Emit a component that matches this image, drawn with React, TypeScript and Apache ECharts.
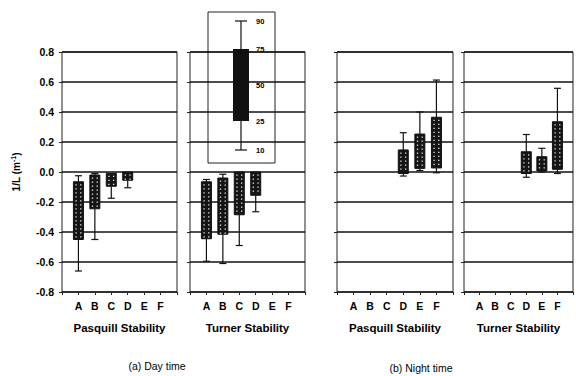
import React, { useEffect, useRef } from "react";
import * as echarts from "echarts";

// Categories (stability classes)
const categories = ["A", "B", "C", "D", "E", "F"];
// Tick labels for 1/L axis
const yTicks = [-0.8, -0.6, -0.4, -0.2, 0.0, 0.2, 0.4, 0.6, 0.8];
// Box data per class: [10th, 25th, 75th, 90th percentile] of 1/L, null = no data
const dayPasquill: (number[] | null)[] = [
  [-0.66, -0.45, -0.065, -0.025],
  [-0.45, -0.245, -0.02, -0.01],
  [-0.175, -0.095, -0.008, -0.008],
  [-0.105, -0.055, 0.0, 0.0],
  null,
  null,
];
const dayTurner: (number[] | null)[] = [
  [-0.595, -0.445, -0.065, -0.05],
  [-0.61, -0.415, -0.04, -0.015],
  [-0.49, -0.285, 0.0, 0.0],
  [-0.265, -0.155, 0.0, 0.0],
  null,
  null,
];
const nightPasquill: (number[] | null)[] = [
  null,
  null,
  null,
  [-0.027, -0.01, 0.147, 0.262],
  [0.01, 0.024, 0.253, 0.4],
  [-0.005, 0.027, 0.365, 0.613],
];
const nightTurner: (number[] | null)[] = [
  null,
  null,
  null,
  [-0.035, -0.01, 0.135, 0.25],
  [0.0, 0.007, 0.102, 0.158],
  [-0.01, 0.018, 0.335, 0.558],
];
const panelNames = ["Pasquill Stability", "Turner Stability", "Pasquill Stability", "Turner Stability"];
const panelData = [dayPasquill, dayTurner, nightPasquill, nightTurner];
const legendPercentiles = ["90", "75", "50", "25", "10"];
const captions = ["(a) Day time", "(b) Night time"];

const FONT = "'Liberation Sans', Arial, sans-serif";

function renderBox(params: any, api: any) {
  const x = api.value(0);
  const lo = api.value(1);
  const q1 = api.value(2);
  const q3 = api.value(3);
  const hi = api.value(4);
  const [cx, yLo] = api.coord([x, lo]);
  const yQ1 = api.coord([x, q1])[1];
  const yQ3 = api.coord([x, q3])[1];
  const yHi = api.coord([x, hi])[1];
  const bw = 10;
  const cw = 7;
  const ls = { stroke: "#111", lineWidth: 1.2 };
  const children: any[] = [];
  if (yLo - yQ1 > 1) {
    children.push({ type: "line", shape: { x1: cx, y1: yQ1, x2: cx, y2: yLo }, style: ls });
    children.push({ type: "line", shape: { x1: cx - cw / 2, y1: yLo, x2: cx + cw / 2, y2: yLo }, style: ls });
  }
  if (yQ3 - yHi > 1) {
    children.push({ type: "line", shape: { x1: cx, y1: yQ3, x2: cx, y2: yHi }, style: ls });
    children.push({ type: "line", shape: { x1: cx - cw / 2, y1: yHi, x2: cx + cw / 2, y2: yHi }, style: ls });
  }
  children.push({
    type: "rect",
    shape: { x: cx - bw / 2, y: yQ3, width: bw, height: yQ1 - yQ3 },
    style: { fill: "#151515", stroke: "#111", lineWidth: 1 },
  });
  for (let yy = yQ3 + 2.5; yy < yQ1 - 1.5; yy += 4) {
    children.push({ type: "rect", shape: { x: cx - 3, y: yy, width: 1.3, height: 1.3 }, style: { fill: "#e8e8e8" } });
    children.push({ type: "rect", shape: { x: cx + 1.7, y: yy, width: 1.3, height: 1.3 }, style: { fill: "#e8e8e8" } });
  }
  return { type: "group", children };
}

export default function App() {
  const ref = useRef<HTMLDivElement>(null);
  useEffect(() => {
    if (!ref.current) return;
    const chart = echarts.init(ref.current, undefined, { renderer: "svg" });
    const lefts = [62, 190, 337, 464];
    const widths = [115, 115, 116, 115];
    const grids = lefts.map((l, i) => ({
      left: l,
      top: 52,
      width: widths[i],
      height: 240,
      show: true,
      borderColor: "#222",
      borderWidth: 1,
      backgroundColor: "transparent",
    }));
    const xAxes = lefts.map((_, i) => ({
      type: "value",
      gridIndex: i,
      min: 0,
      max: 7,
      interval: 1,
      name: panelNames[i],
      nameLocation: "middle",
      nameGap: 30,
      nameTextStyle: { fontFamily: FONT, fontWeight: "bold", fontSize: 11.5, color: "#000" },
      axisLine: { show: false, onZero: false },
      axisTick: { show: true, length: 3, lineStyle: { color: "#222" } },
      splitLine: { show: false },
      axisLabel: {
        margin: 8,
        fontFamily: FONT,
        fontWeight: "bold",
        fontSize: 10.5,
        color: "#000",
        formatter: (v: number) => (v >= 1 && v <= categories.length ? categories[v - 1] : ""),
      },
    }));
    const yAxes = lefts.map((_, i) => ({
      type: "value",
      gridIndex: i,
      min: yTicks[0],
      max: yTicks[yTicks.length - 1],
      interval: 0.2,
      name: i === 0 ? "1/L (m{sup|-1})" : "",
      nameLocation: "middle",
      nameGap: 39,
      nameRotate: 90,
      nameTextStyle: {
        fontFamily: FONT,
        fontWeight: "bold",
        fontSize: 10,
        color: "#000",
        rich: { sup: { fontFamily: FONT, fontWeight: "bold", fontSize: 7, color: "#000", verticalAlign: "top", padding: [0, 0, 6, 0] } },
      },
      axisLine: { show: false },
      axisTick: { show: true, length: 3, lineStyle: { color: "#222" } },
      splitLine: { show: true, lineStyle: { color: "#111", width: 1.5 } },
      axisLabel: {
        show: i === 0,
        margin: 8,
        fontFamily: FONT,
        fontWeight: "bold",
        fontSize: 10.5,
        color: "#000",
        formatter: (v: number) => v.toFixed(1),
      },
    }));
    const series = panelData.map((d, i) => ({
      type: "custom",
      xAxisIndex: i,
      yAxisIndex: i,
      renderItem: renderBox,
      encode: { x: 0, y: [1, 2, 3, 4] },
      data: d
        .map((v, k) => (v ? [k + 1, v[0], v[1], v[2], v[3]] : null))
        .filter((v) => v !== null),
      z: 5,
    }));

    // Inset legend showing percentile meaning
    const insetX = 208, insetY = 12, insetW = 67, insetH = 151;
    const bx = 241;
    const py = [21, 49, 85, 121, 150];
    const legendChildren: any[] = [
      { type: "rect", shape: { x: insetX, y: insetY, width: insetW, height: insetH }, style: { fill: "none", stroke: "#222", lineWidth: 1 } },
      { type: "line", shape: { x1: bx, y1: py[0], x2: bx, y2: py[4] }, style: { stroke: "#111", lineWidth: 1.2 } },
      { type: "line", shape: { x1: bx - 6, y1: py[0], x2: bx + 6, y2: py[0] }, style: { stroke: "#111", lineWidth: 1.2 } },
      { type: "line", shape: { x1: bx - 6, y1: py[4], x2: bx + 6, y2: py[4] }, style: { stroke: "#111", lineWidth: 1.2 } },
      { type: "rect", shape: { x: bx - 8, y: py[1], width: 16, height: py[3] - py[1] }, style: { fill: "#111" } },
    ];
    legendPercentiles.forEach((t, k) => {
      legendChildren.push({
        type: "text",
        x: 256,
        y: py[k],
        style: { text: t, font: "bold 7.5px 'Liberation Sans', Arial, sans-serif", fill: "#000", verticalAlign: "middle", align: "left" },
      });
    });

    chart.setOption({
      animation: false,
      backgroundColor: "#fff",
      grid: grids,
      xAxis: xAxes,
      yAxis: yAxes,
      series,
      graphic: [
        { type: "group", children: legendChildren, z: 10 },
        {
          type: "text",
          x: 157,
          y: 366,
          style: { text: captions[0], fontFamily: FONT, fontSize: 10.5, fill: "#000", align: "center", verticalAlign: "middle" },
        },
        {
          type: "text",
          x: 421,
          y: 368,
          style: { text: captions[1], fontFamily: FONT, fontSize: 10.5, fill: "#000", align: "center", verticalAlign: "middle" },
        },
      ],
    } as any);
    return () => chart.dispose();
  }, []);
  return <div ref={ref} style={{ position: "fixed", left: 0, top: 0, width: 576, height: 376 }} />;
}
